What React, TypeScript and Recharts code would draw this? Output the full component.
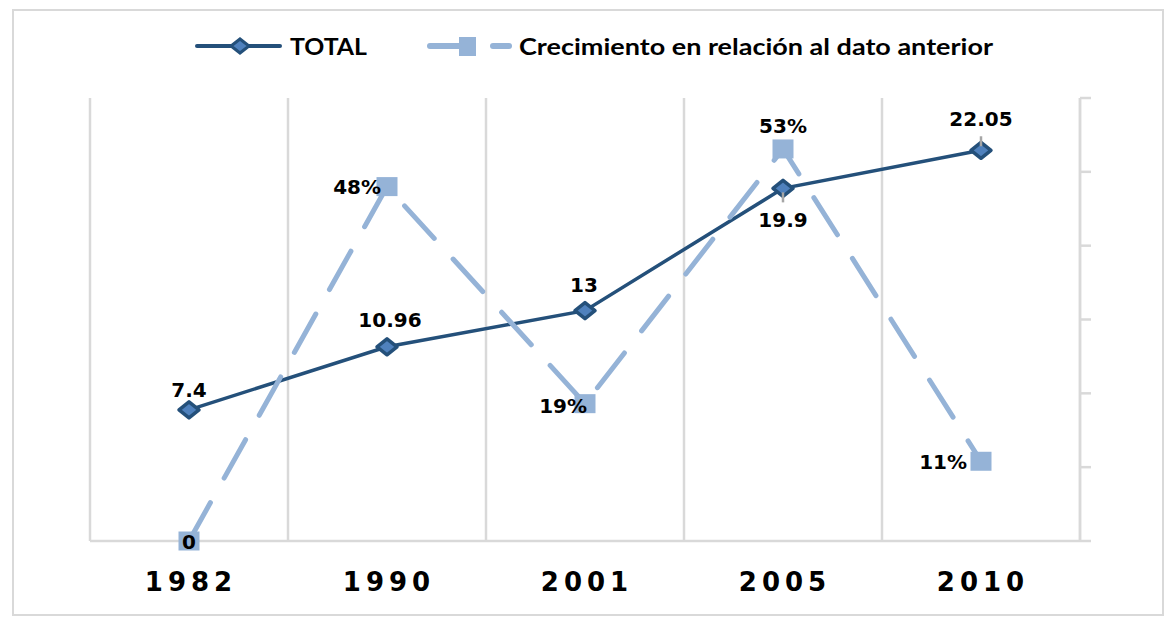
import React from "react"
import { LineChart, Line, XAxis, YAxis, ReferenceLine, Legend } from "recharts"

const years = ["1982", "1990", "2001", "2005", "2010"]
const total = [7.4, 10.96, 13, 19.9, 22.05]
const totalLabels = ["7.4", "10.96", "13", "19.9", "22.05"]
const crecimiento = [0, 0.48, 0.186, 0.531, 0.108]
const crecimientoLabels = ["0", "48%", "19%", "53%", "11%"]
const rightTicks = [0, 0.1, 0.2, 0.3, 0.4, 0.5, 0.6]
const categoryTicks = [0, 1, 2, 3, 4]
const gridBounds = [-0.5, 0.5, 1.5, 2.5, 3.5, 4.5]

const data = years.map((year, i) => ({
  idx: i,
  year,
  total: total[i],
  crec: crecimiento[i],
}))

const DARK = "#24507A"
const DARK_FILL = "#4F81BD"
const LIGHT = "#95B3D7"
const GRID = "#D9D9D9"
const LABEL_FONT = "'DejaVu Sans', Verdana, sans-serif"

// label placement per point (dx, dy, anchor, leader line)
const totalPlacement = [
  { dx: 0, dy: -13, anchor: "middle", lead: 0 },
  { dx: 3, dy: -20, anchor: "middle", lead: 0 },
  { dx: -1, dy: -19, anchor: "middle", lead: 0 },
  { dx: 0, dy: 39, anchor: "middle", lead: 1 },
  { dx: 0, dy: -24, anchor: "middle", lead: -1 },
]
const crecPlacement = [
  { dx: 0, dy: 8, anchor: "middle" },
  { dx: -6, dy: 7, anchor: "end" },
  { dx: 2, dy: 9, anchor: "end" },
  { dx: 0, dy: -16, anchor: "middle" },
  { dx: -14, dy: 8, anchor: "end" },
]

const pos = (p: any) => ({
  x: p.x ?? p.viewBox?.x ?? 0,
  y: p.y ?? p.viewBox?.y ?? 0,
})

const TotalLabel = (p: any) => {
  const { x, y } = pos(p)
  const i = p.index ?? 0
  const pl = totalPlacement[i]
  return (
    <g key={`tl-${i}`}>
      {pl.lead === 1 && <line x1={x} x2={x} y1={y + 4} y2={y + 14} stroke="#A6A6A6" strokeWidth={2.5} />}
      {pl.lead === -1 && <line x1={x} x2={x} y1={y - 14} y2={y - 4} stroke="#A6A6A6" strokeWidth={2.5} />}
      <text
        x={x + pl.dx}
        y={y + pl.dy}
        textAnchor={pl.anchor as any}
        fontFamily={LABEL_FONT}
        fontWeight="bold"
        fontSize={20}
        fill="#000"
      >
        {totalLabels[i]}
      </text>
    </g>
  )
}

const CrecLabel = (p: any) => {
  const { x, y } = pos(p)
  const i = p.index ?? 0
  const pl = crecPlacement[i]
  return (
    <text
      key={`cl-${i}`}
      x={x + pl.dx}
      y={y + pl.dy}
      textAnchor={pl.anchor as any}
      fontFamily={LABEL_FONT}
      fontWeight="bold"
      fontSize={20}
      fill="#000"
    >
      {crecimientoLabels[i]}
    </text>
  )
}

const Diamond = (p: any) => {
  const { cx, cy, index } = p
  if (cx == null || cy == null) return <g key={`d-${index}`} />
  return (
    <polygon
      key={`d-${index}`}
      points={`${cx - 10},${cy} ${cx},${cy - 8} ${cx + 10},${cy} ${cx},${cy + 8}`}
      fill={DARK_FILL}
      stroke={DARK}
      strokeWidth={3.5}
      strokeLinejoin="round"
    />
  )
}

const Square = (p: any) => {
  const { cx, cy, index } = p
  if (cx == null || cy == null) return <g key={`s-${index}`} />
  return <rect key={`s-${index}`} x={cx - 10.5} y={cy - 9.5} width={21} height={19} fill={LIGHT} />
}

const YearTick = (p: any) => (
  <text
    x={p.x + 2}
    y={p.y + 50}
    textAnchor="middle"
    fontFamily={LABEL_FONT}
    fontWeight="bold"
    fontSize={26}
    letterSpacing={5}
    fill="#000"
  >
    {years[p.payload.value]}
  </text>
)

const NoTick = () => <g />

const LegendContent = () => (
  <svg width={1169} height={90}>
    <line x1={197} x2={280} y1={46} y2={46} stroke={DARK} strokeWidth={4} strokeLinecap="round" />
    <polygon points="231,46 240,39 249,46 240,53" fill={DARK_FILL} stroke={DARK} strokeWidth={3} />
    <text
      x={290}
      y={55}
      fontFamily="Lato, 'Open Sans', sans-serif"
      fontWeight="bold"
      fontSize={23}
      textLength={77}
      lengthAdjust="spacingAndGlyphs"
      fill="#000"
    >
      TOTAL
    </text>
    <line x1={430} x2={462} y1={46} y2={46} stroke={LIGHT} strokeWidth={6} strokeLinecap="round" />
    <rect x={459} y={37} width={17} height={19} fill={LIGHT} />
    <line x1={493} x2={509} y1={46} y2={46} stroke={LIGHT} strokeWidth={6} strokeLinecap="round" />
    <text
      x={519}
      y={55}
      fontFamily="Lato, 'Open Sans', sans-serif"
      fontWeight="bold"
      fontSize={23}
      textLength={474}
      lengthAdjust="spacingAndGlyphs"
      fill="#000"
    >
      Crecimiento en relación al dato anterior
    </text>
  </svg>
)

export default function App() {
  return (
    <div style={{ position: "absolute", left: 0, top: 0, width: 1169, height: 625, background: "#fff" }}>
      <div
        style={{
          position: "absolute",
          left: 12,
          top: 9,
          width: 1152,
          height: 607,
          border: `2.5px solid ${GRID}`,
          boxSizing: "border-box",
        }}
      />
      <LineChart
        width={1169}
        height={625}
        data={data}
        margin={{ top: 98, right: 69, bottom: 44, left: 90 }}
        style={{ position: "absolute", left: 0, top: 0 }}
      >
        <XAxis
          dataKey="idx"
          type="number"
          domain={[-0.5, 4.5]}
          ticks={categoryTicks}
          height={40}
          tickSize={0}
          tickMargin={0}
          tickLine={false}
          axisLine={{ stroke: GRID, strokeWidth: 2.5 }}
          tick={<YearTick />}
        />
        <YAxis yAxisId="left" domain={[0, 25]} hide />
        <YAxis
          yAxisId="right"
          orientation="right"
          domain={[0, 0.6]}
          ticks={rightTicks}
          width={20}
          tick={<NoTick />}
          tickSize={11}
          tickLine={{ stroke: GRID, strokeWidth: 2.5 }}
          axisLine={{ stroke: GRID, strokeWidth: 2.5 }}
        />
        {gridBounds.map((b) => (
          <ReferenceLine key={b} x={b} yAxisId="left" stroke={GRID} strokeWidth={2.5} />
        ))}
        <Legend
          layout="horizontal"
          verticalAlign="middle"
          align="center"
          wrapperStyle={{ top: 0, left: 0, width: 1169, height: 90 }}
          content={<LegendContent />}
        />
        <Line
          yAxisId="left"
          dataKey="total"
          stroke={DARK}
          strokeWidth={3.5}
          dot={Diamond}
          activeDot={false}
          label={TotalLabel}
          isAnimationActive={false}
        />
        <Line
          yAxisId="right"
          dataKey="crec"
          stroke={LIGHT}
          strokeWidth={5}
          strokeDasharray="44 28"
          strokeLinecap="round"
          dot={Square}
          activeDot={false}
          label={CrecLabel}
          isAnimationActive={false}
        />
      </LineChart>
    </div>
  )
}
